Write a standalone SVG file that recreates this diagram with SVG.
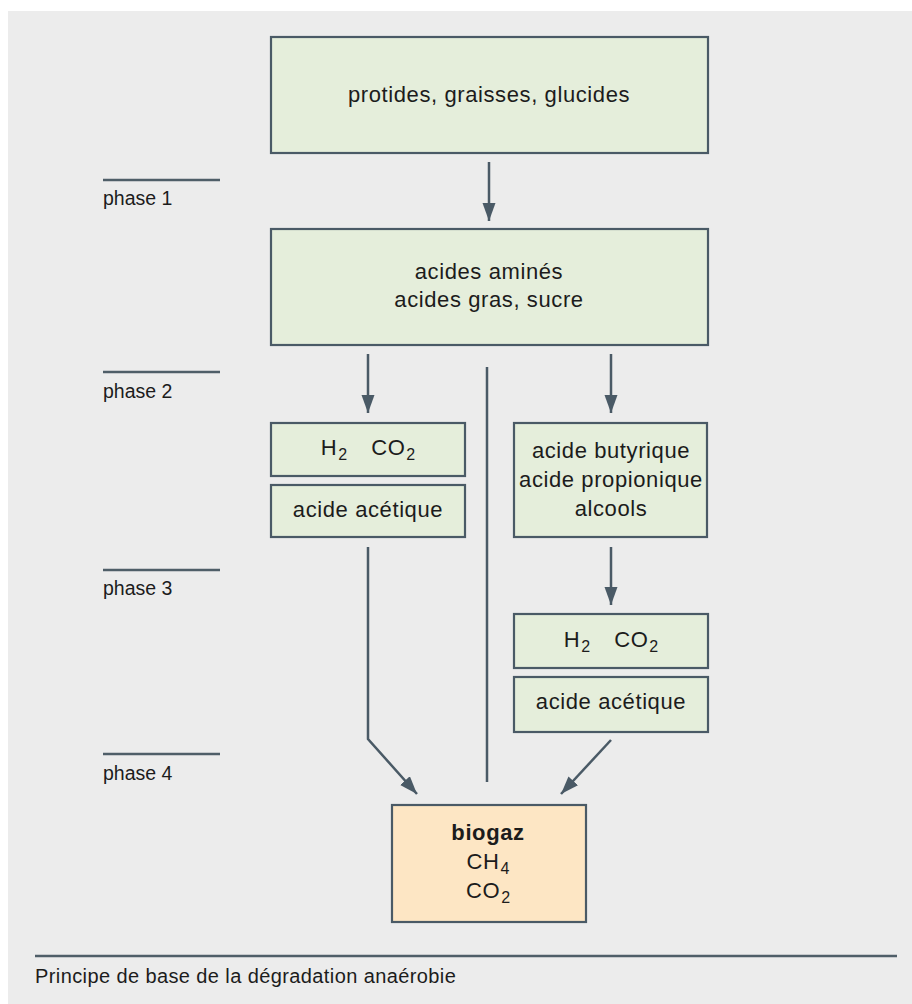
<svg xmlns="http://www.w3.org/2000/svg" width="912" height="1004" viewBox="0 0 912 1004">
<style>
.box{fill:#e5eedb;stroke:#4a5a66;stroke-width:2.2}
.gas{fill:#fde6c4;stroke:#4a5a66;stroke-width:2.2}
.t{font-family:"Liberation Sans",Arial,sans-serif;font-size:22px;letter-spacing:0.6px;fill:#1c1c1c;text-anchor:middle}
.sub{font-size:16px;letter-spacing:0}
.ph{font-family:"Liberation Sans",Arial,sans-serif;font-size:19.5px;fill:#1c1c1c}
.rule{stroke:#4f5e68;stroke-width:2.5}
.c{fill:none;stroke:#4a5a66;stroke-width:2.5}
.a{marker-end:url(#ah)}
</style>
<defs>
<marker id="ah" markerUnits="userSpaceOnUse" markerWidth="20" markerHeight="14" refX="18" refY="6.5" orient="auto"><path d="M0,0 L18,6.5 L0,13 z" fill="#4a5a66"/></marker>
</defs>
<rect x="8" y="11" width="904" height="993" fill="#ececec"/>
<g id="phases">
<line class="rule" x1="103" y1="180" x2="220" y2="180"/><text class="ph" x="103" y="205">phase 1</text>
<line class="rule" x1="103" y1="372" x2="220" y2="372"/><text class="ph" x="103" y="398">phase 2</text>
<line class="rule" x1="103" y1="570" x2="220" y2="570"/><text class="ph" x="103" y="595">phase 3</text>
<line class="rule" x1="103" y1="754" x2="220" y2="754"/><text class="ph" x="103" y="780">phase 4</text>
</g>
<g id="connectors">
<line class="c a" x1="489" y1="162" x2="489" y2="221"/>
<line class="c a" x1="368" y1="354" x2="368" y2="413"/>
<line class="c a" x1="611" y1="354" x2="611" y2="413"/>
<line class="c" x1="487" y1="367" x2="487" y2="782"/>
<line class="c a" x1="611" y1="547" x2="611" y2="605"/>
<polyline class="c a" points="368,547 368,739 417,794"/>
<line class="c a" x1="611" y1="740" x2="561" y2="794"/>
</g>
<g id="n1"><rect class="box" x="271" y="37" width="437" height="116"/><text class="t" x="489" y="102">protides, graisses, glucides</text></g>
<g id="n2"><rect class="box" x="271" y="229" width="437" height="116"/><text class="t" x="489" y="279">acides aminés</text><text class="t" x="489" y="307">acides gras, sucre</text></g>
<g id="n3"><rect class="box" x="271" y="423" width="194" height="53"/><text class="t" x="368" y="455">H<tspan class="sub" dy="5" dx="1">2</tspan><tspan dy="-5" dx="24">CO</tspan><tspan class="sub" dy="5" dx="1">2</tspan></text></g>
<g id="n4"><rect class="box" x="271" y="485" width="194" height="52"/><text class="t" x="368" y="517">acide acétique</text></g>
<g id="n5"><rect class="box" x="514" y="423" width="193" height="114"/><text class="t" x="611" y="458">acide butyrique</text><text class="t" x="611" y="487">acide propionique</text><text class="t" x="611" y="516">alcools</text></g>
<g id="n6"><rect class="box" x="514" y="614" width="194" height="54"/><text class="t" x="611" y="647">H<tspan class="sub" dy="5" dx="1">2</tspan><tspan dy="-5" dx="24">CO</tspan><tspan class="sub" dy="5" dx="1">2</tspan></text></g>
<g id="n7"><rect class="box" x="514" y="677" width="194" height="55"/><text class="t" x="611" y="709">acide acétique</text></g>
<g id="n8"><rect class="gas" x="392" y="805" width="194" height="117"/><text class="t" x="488" y="840" font-weight="bold">biogaz</text><text class="t" x="488" y="869">CH<tspan class="sub" dy="5" dx="1">4</tspan></text><text class="t" x="488" y="898">CO<tspan class="sub" dy="5" dx="1">2</tspan></text></g>
<g id="caption">
<line class="rule" x1="35" y1="956" x2="897" y2="956"/>
<text class="ph" x="35" y="983" style="font-size:20px;letter-spacing:0.4px">Principe de base de la dégradation anaérobie</text>
</g>
</svg>
